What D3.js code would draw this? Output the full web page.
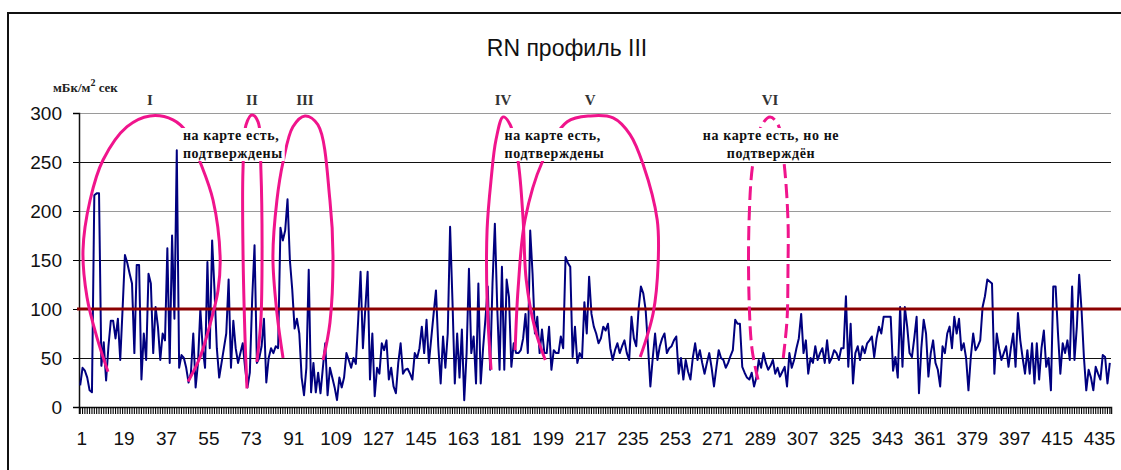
<!DOCTYPE html>
<html>
<head>
	<meta charset="utf-8" />
	<title>RN профиль III</title>
	<script src="https://cdn.jsdelivr.net/npm/d3@7"></script>
	<style>
		body, html { margin: 0; padding: 0; background: #fff; }
		svg { display: block; }
	</style>
</head>
<body>
	<div id="chart"></div>
	<script>
		// RN values along profile III, point by point (mBq/m2 s)
		var rn = [
			22,40,37,30,17,15,216,218,218,42,66,27,62,88,88,70,90,48,
			100,155,147,136,126,55,145,145,28,75,48,136,126,55,102,82,48,75,
			68,162,45,175,90,262,40,53,50,40,25,35,75,20,45,100,60,40,
			148,60,170,120,60,30,45,60,75,130,40,88,60,45,55,65,40,20,
			35,110,165,45,50,62,90,25,50,60,55,62,60,183,170,180,212,150,
			120,80,90,75,30,12,40,140,15,45,15,35,14,40,65,12,40,30,
			20,7,30,20,30,55,48,40,50,44,89,138,60,100,138,28,75,11,
			40,34,65,58,68,28,40,21,14,45,65,34,38,39,34,28,55,50,
			60,82,55,89,45,70,95,119,62,24,72,40,75,184,109,24,75,30,
			79,7,55,141,55,72,24,126,24,60,90,123,38,126,187,102,38,143,
			38,130,112,41,65,55,55,58,70,95,55,180,136,75,92,55,79,55,
			55,82,38,58,55,55,72,60,153,147,143,51,82,45,55,50,107,75,
			133,95,82,75,65,70,82,78,85,60,48,58,65,55,62,68,55,48,
			92,70,62,100,123,116,99,62,21,50,75,48,62,70,75,55,60,62,
			68,72,34,50,28,48,36,28,50,65,48,58,45,34,45,55,40,21,
			40,58,50,48,40,45,52,58,89,85,85,41,35,30,28,35,21,30,
			48,40,55,45,38,42,48,34,40,31,36,41,21,55,40,48,60,70,
			95,55,68,34,50,45,62,48,55,60,45,68,45,50,58,55,48,60,
			60,113,41,85,24,55,62,48,62,55,65,68,72,51,70,82,75,92,
			92,92,92,37,51,30,102,41,102,82,55,51,70,92,14,60,89,75,
			31,55,68,45,38,21,62,55,75,82,60,92,75,90,58,65,50,17,
			51,75,58,62,68,102,113,130,128,126,34,75,60,48,55,62,41,60,
			75,41,96,68,50,34,58,34,65,24,65,28,60,78,41,50,17,123,
			123,75,34,65,55,68,48,123,48,82,135,99,51,17,38,30,17,41,
			34,28,53,51,24,45
		];

		var threshold = 100;
		var yTicks = [0, 50, 100, 150, 200, 250, 300];
		var xTickIdx = [1,19,37,55,73,91,109,127,145,163,181,199,217,235,253,271,289,307,325,343,361,379,397,415,433];
		var xTickLabels = ["1","19","37","55","73","91","109","127","145","163","181","199","217","235","253","271","289","307","325","343","361","379","397","415","435"];

		// hand drawn zones: [point index, value] outlines
		var zoneNames = ["I", "II", "III", "IV", "V", "VI"];
		var zoneLabelIdx = [30.6, 73.9, 96.4, 180.5, 217.5, 293.8];
		var zones = [
			[[12.8,36],[8.1,71],[3.9,112],[2.2,160],[5.2,211],[10.7,252],[20.9,286],[30.6,297],[40.4,293],[46.4,280],[51.9,250],[57.4,211],[60.4,153],[59.5,119],[57.4,96],[51.9,51],[46.8,26]],
			[[71.8,19],[71,68],[70.1,160],[70.1,242],[71.4,288],[73.9,298],[76.5,291],[77.7,242],[78.2,160],[77.7,89],[76,46]],
			[[87.1,50],[84.5,96],[82.8,153],[84.5,211],[87.1,250],[91.3,286],[96.4,297],[101.9,288],[107,211],[108.3,153],[107,86],[104.1,48]],
			[[175.4,38],[173.7,109],[173.7,181],[175.4,232],[177.5,273],[180.5,296],[183.5,288],[186.9,250],[189,191],[190.3,130],[194.1,79],[198.4,48]],
			[[185.6,58],[186.9,122],[189.8,191],[197.1,250],[207.7,291],[217.5,297],[227.2,295],[234.4,278],[240,247],[245.9,191],[246.3,147],[244.2,96],[238.7,51]],
			[[288.7,28],[286.2,58],[284.9,109],[284.9,191],[286.6,250],[290.4,288],[293.8,296],[297.2,288],[299.7,250],[301.4,191],[301.4,140],[301,89],[299.3,48]]
		];
		var zoneDashed = [false, false, false, false, false, true];

		var notes = [
			{ idx: 44.6, anchor: "start", lines: ["на карте есть,", "подтверждены"] },
			{ idx: 181.1, anchor: "start", lines: ["на карте есть,", "подтверждены"] },
			{ idx: 294.2, anchor: "middle", lines: ["на карте есть, но не", "подтверждён"] }
		];

		var width = 1121, height = 470;
		var plotLeft = 79, plotRight = 1111, plotTop = 113, plotBottom = 407;

		var svg = d3.select("#chart").append("svg")
			.attr("width", width)
			.attr("height", height);

		svg.append("rect")
			.attr("x", 8).attr("y", 13)
			.attr("width", width + 10).attr("height", height)
			.attr("fill", "#fff")
			.attr("stroke", "#111")
			.attr("stroke-width", 2);

		var idx = d3.range(1, rn.length + 1);
		var x = d3.scaleBand().domain(idx).range([plotLeft, plotRight]);
		var xc = function(i) { return x.range()[0] + (i - 0.5) * x.step(); };
		var y = d3.scaleLinear().domain([0, 300]).range([plotBottom, plotTop]);

		// grid
		svg.append("g").selectAll("line")
			.data(yTicks.filter(function(d) { return d > 0 && d !== threshold; }))
			.enter().append("line")
			.attr("x1", plotLeft).attr("x2", plotRight)
			.attr("y1", function(d) { return Math.round(y(d)) + 0.5; })
			.attr("y2", function(d) { return Math.round(y(d)) + 0.5; })
			.attr("stroke", function(d) { return d % 100 === 0 ? "#9a9a9a" : "#111"; })
			.attr("stroke-width", 1.2);

		// y axis
		var yAxis = svg.append("g")
			.attr("transform", "translate(" + plotLeft + ",0)")
			.call(d3.axisLeft(y).tickValues(yTicks).tickSize(6).tickPadding(11));
		yAxis.select(".domain").attr("stroke", "#111").attr("stroke-width", 1.5);
		yAxis.selectAll("text")
			.attr("font-family", "Liberation Sans, Arial, sans-serif")
			.attr("font-size", 19)
			.attr("fill", "#111");

		// x axis with a tick per point
		var xAxis = svg.append("g")
			.attr("transform", "translate(0," + plotBottom + ")")
			.call(d3.axisBottom(x).tickSize(7).tickFormat(""));
		xAxis.select(".domain").attr("stroke", "#111").attr("stroke-width", 1.5);
		xAxis.selectAll(".tick line").attr("stroke", "#000").attr("stroke-width", 1.1);

		svg.append("g").selectAll("text")
			.data(xTickIdx)
			.enter().append("text")
			.attr("x", function(d) { return xc(d) + 1.5; })
			.attr("y", plotBottom + 38)
			.attr("text-anchor", "middle")
			.attr("font-family", "Liberation Sans, Arial, sans-serif")
			.attr("font-size", 19)
			.attr("fill", "#111")
			.text(function(d, i) { return xTickLabels[i]; });

		// data line
		var line = d3.line()
			.x(function(d, i) { return xc(i + 1); })
			.y(function(d) { return y(d); });

		svg.append("path")
			.datum(rn)
			.attr("fill", "none")
			.attr("stroke", "#00007f")
			.attr("stroke-width", 2)
			.attr("stroke-linejoin", "round")
			.attr("d", line);

		// threshold line
		svg.append("line")
			.attr("x1", plotLeft - 2).attr("x2", width)
			.attr("y1", y(threshold)).attr("y2", y(threshold))
			.attr("stroke", "#8b0000")
			.attr("stroke-width", 3);

		// zones
		var zoneLine = d3.line()
			.x(function(d) { return xc(d[0]); })
			.y(function(d) { return y(d[1]); })
			.curve(d3.curveCatmullRom);

		svg.append("g").selectAll("path")
			.data(zones)
			.enter().append("path")
			.attr("fill", "none")
			.attr("stroke", "#f0148c")
			.attr("stroke-width", 3)
			.attr("stroke-dasharray", function(d, i) { return zoneDashed[i] ? "14,6" : null; })
			.attr("d", zoneLine);

		svg.append("g").selectAll("text")
			.data(zoneNames)
			.enter().append("text")
			.attr("x", function(d, i) { return xc(zoneLabelIdx[i]); })
			.attr("y", y(300) - 8)
			.attr("text-anchor", "middle")
			.attr("font-family", "Liberation Serif, Times New Roman, serif")
			.attr("font-weight", "bold")
			.attr("font-size", 15)
			.attr("fill", "#333")
			.text(function(d) { return d; });

		// notes on white boxes
		notes.forEach(function(n) {
			var g = svg.append("g");
			var t = g.append("text")
				.attr("font-family", "Liberation Serif, Times New Roman, serif")
				.attr("font-weight", "bold")
				.attr("font-size", 14)
				.attr("letter-spacing", 0.6)
				.attr("fill", "#111")
				.attr("text-anchor", n.anchor);
			n.lines.forEach(function(s, k) {
				t.append("tspan")
					.attr("x", xc(n.idx))
					.attr("y", y(300) + 27 + k * 18)
					.text(s);
			});
			var b = t.node().getBBox();
			g.insert("rect", "text")
				.attr("x", b.x - 2).attr("y", b.y)
				.attr("width", b.width + 4).attr("height", b.height)
				.attr("fill", "#fff");
		});

		// unit label
		var unit = svg.append("text")
			.attr("x", 53).attr("y", 92)
			.attr("font-family", "Liberation Serif, Times New Roman, serif")
			.attr("font-weight", "bold")
			.attr("font-size", 13)
			.attr("fill", "#222");
		unit.append("tspan").text("мБк/м");
		unit.append("tspan").attr("dy", -6).attr("font-size", 10).text("2");
		unit.append("tspan").attr("dy", 6).text(" сек");

		// title
		svg.append("text")
			.attr("x", 567).attr("y", 56)
			.attr("text-anchor", "middle")
			.attr("font-family", "Liberation Sans, Arial, sans-serif")
			.attr("font-size", 23)
			.attr("fill", "#111")
			.text("RN профиль III");
	</script>
</body>
</html>
